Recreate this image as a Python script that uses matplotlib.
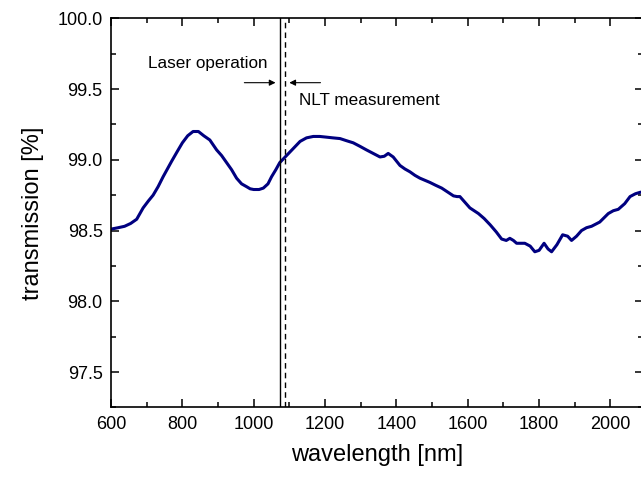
import matplotlib.pyplot as plt
import numpy as np
from matplotlib.ticker import MultipleLocator

plt.rcParams['font.family'] = ['Liberation Sans', 'DejaVu Sans']

# transmission spectrum
wl = [600, 620, 638, 655, 672, 690, 705, 718, 732, 746, 770, 786, 800, 815,
      830, 845, 860, 877, 896, 910, 924, 938, 952, 966, 980, 990, 1000, 1015,
      1027, 1040, 1050, 1062, 1073, 1092, 1111, 1130, 1148, 1167, 1185, 1204,
      1222, 1242, 1260, 1279, 1298, 1316, 1335, 1354, 1366, 1377, 1391, 1410,
      1424, 1438, 1452, 1466, 1480, 1494, 1510, 1527, 1545, 1560, 1570, 1578,
      1592, 1606, 1630, 1646, 1663, 1680, 1695, 1708, 1718, 1728, 1737, 1748,
      1760, 1775, 1788, 1800, 1814, 1825, 1835, 1850, 1866, 1880, 1891, 1905,
      1919, 1933, 1947, 1970, 1994, 2008, 2022, 2040, 2055, 2070, 2083, 2095]
trans = [98.51, 98.52, 98.53, 98.55, 98.58, 98.66, 98.71, 98.75, 98.81, 98.88,
         98.99, 99.06, 99.12, 99.17, 99.20, 99.20, 99.17, 99.14, 99.07, 99.03,
         98.98, 98.93, 98.87, 98.83, 98.81, 98.795, 98.79, 98.79, 98.80, 98.83,
         98.88, 98.93, 98.98, 99.03, 99.08, 99.13, 99.155, 99.165, 99.165, 99.16,
         99.155, 99.15, 99.135, 99.12, 99.095, 99.07, 99.045, 99.02, 99.025,
         99.045, 99.02, 98.96, 98.935, 98.915, 98.89, 98.87, 98.855, 98.84,
         98.82, 98.80, 98.77, 98.745, 98.74, 98.74, 98.70, 98.66, 98.62, 98.585,
         98.54, 98.49, 98.44, 98.43, 98.445, 98.43, 98.41, 98.41, 98.41, 98.39,
         98.35, 98.36, 98.41, 98.37, 98.35, 98.40, 98.47, 98.46, 98.43, 98.46,
         98.50, 98.52, 98.53, 98.56, 98.62, 98.64, 98.65, 98.69, 98.74, 98.76,
         98.77, 98.775]

laser_wl = 1073
nlt_wl = 1088

fig = plt.figure(figsize=(6.41, 4.78), dpi=100)
ax = fig.add_axes([0.1732, 0.1477, 0.8292, 0.8140])

ax.plot(wl, trans, color='#000080', lw=2.2, solid_joinstyle='round',
        solid_capstyle='round')
ax.axvline(laser_wl, color='k', lw=1.0)
ax.axvline(nlt_wl, color='k', lw=1.0, ls=(0, (4, 3)))

ax.annotate('', xy=(1069, 99.545), xytext=(966, 99.545),
            arrowprops=dict(arrowstyle='-|>', color='k', lw=0.8, mutation_scale=9))
ax.annotate('', xy=(1092, 99.545), xytext=(1195, 99.545),
            arrowprops=dict(arrowstyle='-|>', color='k', lw=0.8, mutation_scale=9))
ax.text(703, 99.68, 'Laser operation', fontsize=12.3, va='center', ha='left')
ax.text(1127, 99.42, 'NLT measurement', fontsize=12.3, va='center', ha='left')

ax.set_xlim(600, 2090)
ax.set_ylim(97.25, 100)
ax.xaxis.set_major_locator(MultipleLocator(200))
ax.xaxis.set_minor_locator(MultipleLocator(100))
ax.yaxis.set_major_locator(MultipleLocator(0.5))
ax.yaxis.set_minor_locator(MultipleLocator(0.25))
ax.yaxis.set_major_formatter(plt.FormatStrFormatter('%.1f'))
ax.tick_params(which='both', direction='in', top=True, right=True, width=1.1,
               labelsize=13)
ax.tick_params(which='major', length=6, pad=6)
ax.tick_params(which='minor', length=3.5)
for s in ax.spines.values():
    s.set_linewidth(1.2)

ax.set_xlabel('wavelength [nm]', fontsize=17, labelpad=8)
ax.set_ylabel('transmission [%]', fontsize=17, labelpad=10)

fig.savefig('out.png', dpi=100)
